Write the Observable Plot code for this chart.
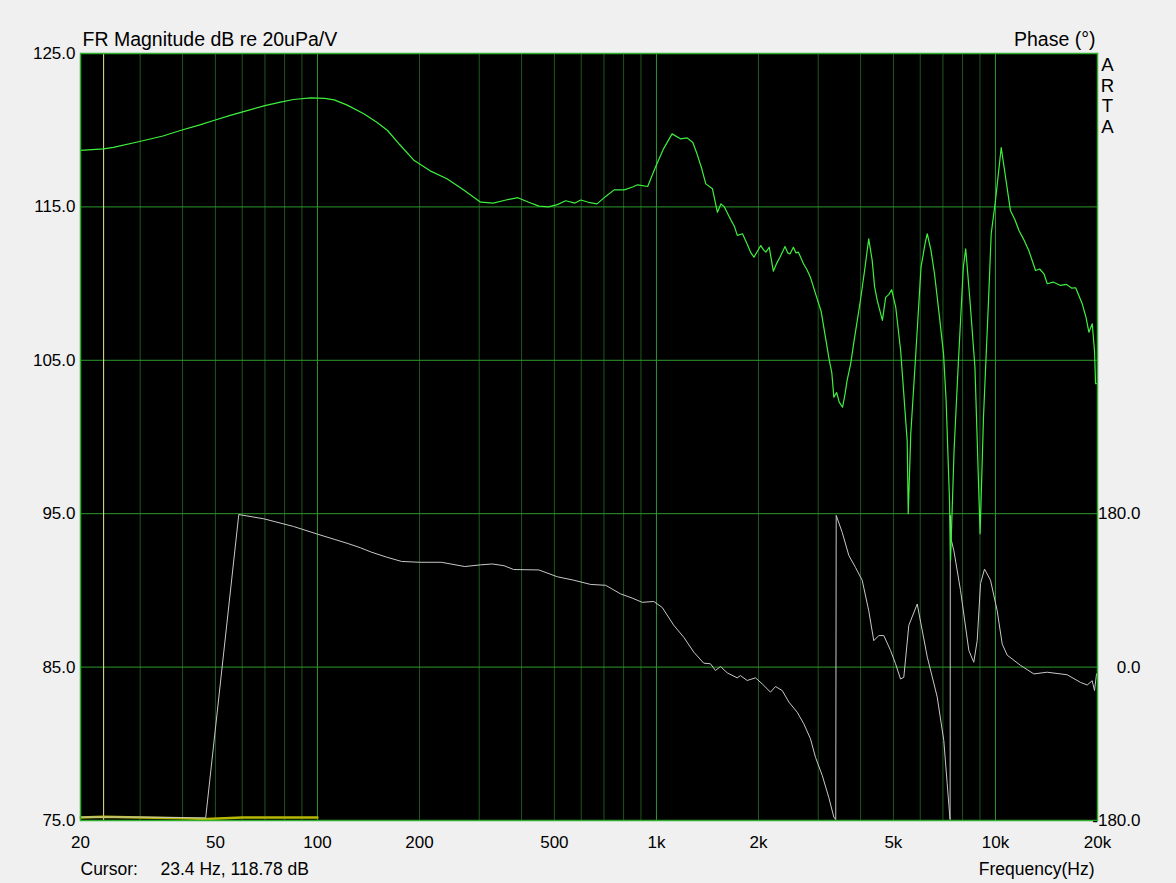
<!DOCTYPE html>
<html>
<head>
<meta charset="utf-8">
<script src="https://cdn.jsdelivr.net/npm/d3@7"></script>
<script src="https://cdn.jsdelivr.net/npm/@observablehq/plot@0.6"></script>
<style>
  html, body { margin: 0; padding: 0; background: #f0f0f0; }
  #chart svg { display: block; }
</style>
</head>
<body>
<div id="chart"></div>
<script>
// Magnitude (green) – frequency (Hz) and level (dB re 20uPa/V)
const magFreq = [20, 23.4, 25, 30.1, 35, 39.4, 45, 49.4, 55, 62, 70, 77.8, 85, 95.4, 105, 112, 122, 137, 150, 161, 175, 193, 215, 241, 270, 303, 330, 360, 390, 420, 450, 480, 510, 540, 575, 598, 630, 668, 710, 750, 804, 850, 880, 942, 993, 1050, 1112, 1176, 1232, 1280, 1317, 1360, 1398, 1463, 1513, 1550, 1586, 1654, 1700, 1732, 1794, 1850, 1900, 1939, 2031, 2070, 2103, 2151, 2212, 2260, 2314, 2395, 2440, 2479, 2535, 2580, 2623, 2715, 2780, 2845, 2979, 3060, 3128, 3235, 3290, 3336, 3400, 3460, 3540, 3600, 3650, 3740, 3830, 3996, 4120, 4228, 4330, 4400, 4480, 4640, 4744, 4850, 4940, 5080, 5252, 5490, 5530, 5626, 5820, 6032, 6200, 6292, 6450, 6610, 6840, 7030, 7152, 7320, 7370, 7550, 7760, 8040, 8170, 8410, 8700, 9010, 9220, 9540, 9716, 10000, 10400, 10700, 11070, 11400, 11730, 12100, 12540, 13130, 13500, 13900, 14220, 14800, 15560, 16200, 16800, 17240, 18030, 18500, 18860, 19300, 19600, 19740, 20000];
const magDb = [118.68, 118.78, 118.88, 119.28, 119.62, 119.98, 120.35, 120.63, 120.95, 121.28, 121.6, 121.83, 122.0, 122.11, 122.08, 121.98, 121.65, 121.07, 120.5, 119.98, 119.05, 118.02, 117.35, 116.83, 116.1, 115.31, 115.25, 115.45, 115.6, 115.3, 115.05, 115.0, 115.15, 115.4, 115.25, 115.45, 115.3, 115.2, 115.7, 116.11, 116.11, 116.3, 116.44, 116.33, 117.59, 118.8, 119.76, 119.44, 119.5, 119.2, 118.46, 117.5, 116.5, 116.18, 114.65, 115.2, 115.0, 114.2, 113.7, 113.14, 113.25, 112.6, 112.0, 111.72, 112.48, 112.2, 112.05, 112.37, 110.81, 111.3, 111.72, 112.42, 112.0, 111.94, 112.37, 112.0, 112.05, 111.29, 110.9, 110.42, 109.0, 108.2, 106.94, 105.0, 104.2, 102.6, 102.9, 102.27, 101.94, 102.8, 103.68, 104.77, 106.3, 108.9, 111.0, 112.92, 111.5, 109.8, 108.9, 107.6, 109.1, 109.3, 109.6, 108.46, 105.64, 99.77, 95.0, 100.2, 105.4, 111.07, 112.6, 113.25, 112.2, 110.64, 107.8, 105.4, 102.4, 95.86, 91.95, 99.12, 104.55, 111.07, 112.27, 108.9, 104.55, 93.69, 101.3, 108.9, 113.25, 115.4, 118.87, 117.0, 114.77, 114.2, 113.46, 112.9, 112.16, 110.85, 110.95, 110.64, 109.99, 110.1, 109.88, 109.95, 109.7, 109.73, 108.68, 107.8, 106.83, 107.38, 105.6, 103.47, 103.5];

// Phase (grey) – frequency (Hz) and phase (degrees)
const phaseFreq = [20, 30, 46.8, 58.6, 69.5, 85, 100, 112, 123, 134, 144, 160, 177, 200, 232, 272, 303, 328, 355, 379, 450, 510, 570, 639, 708, 783, 848, 908, 982, 1040, 1125, 1204, 1289, 1379, 1443, 1493, 1545, 1617, 1730, 1770, 1852, 1960, 2050, 2170, 2245, 2350, 2458, 2602, 2720, 2846, 2946, 3083, 3224, 3336, 3380, 3390, 3532, 3694, 3864, 4044, 4230, 4376, 4528, 4684, 4904, 5072, 5248, 5366, 5552, 5878, 6292, 6732, 7040, 7206, 7334, 7350, 7360, 7400, 7536, 7888, 8346, 8632, 8834, 9036, 9284, 9670, 10120, 10470, 10830, 11860, 12980, 14210, 16280, 17830, 18650, 19290, 19600, 19870];
const phaseDeg = [-176, -176, -177, 179, 174, 165, 156, 150, 145, 140, 135, 129, 124, 123, 123, 118, 120, 121, 119, 114.5, 114, 106, 102, 97, 96, 86, 81, 76, 77, 70, 49, 35, 17.5, 4.6, 3.9, -4, 0.7, -6.7, -12.6, -10, -15.7, -12.6, -19.6, -29.4, -22.8, -27.5, -41, -53, -66.5, -84, -106, -127, -153, -176, -179, 178, 158, 131, 117, 102, 66, 31, 37, 37, 19.5, 4, -14, -12, 49, 74, 12, -35, -86, -137, -176, -179, 178, 150, 137, 90, 19.5, 5.7, 31, 98, 115, 102, 66, 27, 14, 2, -8, -6, -9, -18, -21, -16, -27.5, -8];

// Lower (yellow) trace near the floor, 20–100 Hz
const lowFreq = [20, 23.4, 30, 40, 47, 60, 80, 100];
const lowDb = [75.2, 75.25, 75.2, 75.15, 75.1, 75.2, 75.2, 75.2];

// Axis ticks
const freqTicks = [20, 50, 100, 200, 500, 1000, 2000, 5000, 10000, 20000];
const freqLabels = ["20", "50", "100", "200", "500", "1k", "2k", "5k", "10k", "20k"];
const dbTicks = [75, 85, 95, 105, 115, 125];
const phaseTicks = [-180, 0, 180];
const minorFreq = [30, 40, 50, 60, 70, 80, 90, 200, 300, 400, 500, 600, 700, 800, 900, 2000, 3000, 4000, 5000, 6000, 7000, 8000, 9000];
const majorFreq = [100, 1000, 10000];
const gridDb = [85, 95, 105, 115];
const cursorFreq = [23.4];

// Phase is drawn on the right axis: -180..180 deg ↔ 75..95 dB
const phaseToDb = p => 85 + p / 18;

const mag = magFreq.map((f, i) => ({f, v: magDb[i]}));
const phase = phaseFreq.map((f, i) => ({f, v: phaseToDb(phaseDeg[i])}));
const low = lowFreq.map((f, i) => ({f, v: lowDb[i]}));
const xLabels = freqTicks.map((f, i) => ({f, label: freqLabels[i]}));

const font = "'Liberation Sans', Arial, sans-serif";

const chart = Plot.plot({
  width: 1176,
  height: 883,
  marginLeft: 80,
  marginRight: 79,
  marginTop: 53,
  marginBottom: 63,
  style: {background: "#f0f0f0", fontFamily: font, fontSize: "17px", color: "#000"},
  x: {type: "log", domain: [20, 20000], axis: null},
  y: {domain: [75, 125]},
  marks: [
    Plot.frame({fill: "#000", stroke: null}),
    Plot.ruleX(minorFreq, {stroke: "#1b581b", strokeWidth: 1}),
    Plot.ruleX(majorFreq, {stroke: "#2e9a2e", strokeWidth: 1}),
    Plot.ruleY(gridDb, {stroke: "#2e9a2e", strokeWidth: 1}),
    Plot.ruleX(cursorFreq, {stroke: "#e6e69a", strokeWidth: 1}),
    Plot.line(low, {x: "f", y: "v", stroke: "#b8b800", strokeWidth: 2.5}),
    Plot.line(phase, {x: "f", y: "v", stroke: "#c8c8c8", strokeWidth: 1}),
    Plot.line(mag, {x: "f", y: "v", stroke: "#3ef03e", strokeWidth: 1.2}),
    Plot.frame({stroke: "#2fae2f", strokeWidth: 1.5}),
    Plot.text(xLabels, {x: "f", text: "label", frameAnchor: "bottom", textAnchor: "middle", lineAnchor: "top", dy: 15, fontSize: 17}),
    Plot.axisY({
      ticks: dbTicks, tickSize: 0, tickPadding: 5, fontSize: 17,
      tickFormat: d => d.toFixed(1), label: null
    }),
    Plot.axisY(phaseTicks.map(phaseToDb), {
      anchor: "right", tickSize: 0, tickPadding: 43, textAnchor: "end", fontSize: 17,
      tickFormat: d => ((d - 85) * 18).toFixed(1), label: null
    }),
    Plot.text(["FR Magnitude dB re 20uPa/V"], {frameAnchor: "top-left", textAnchor: "start", lineAnchor: "bottom", dx: 2, dy: -8, fontSize: 19.5}),
    Plot.text(["Phase (°)"], {frameAnchor: "top-right", textAnchor: "end", lineAnchor: "bottom", dx: -2, dy: -8, fontSize: 19.5}),
    Plot.text(["A\nR\nT\nA"], {frameAnchor: "top-right", textAnchor: "middle", lineAnchor: "top", lineHeight: 1.12, dx: 10, dy: 2.5, fontSize: 18.6}),
    Plot.text(["Cursor:"], {frameAnchor: "bottom-left", textAnchor: "start", lineAnchor: "bottom", dx: 0, dy: 54, fontSize: 17.5}),
    Plot.text(["23.4 Hz, 118.78 dB"], {frameAnchor: "bottom-left", textAnchor: "start", lineAnchor: "bottom", dx: 80, dy: 54, fontSize: 17.5}),
    Plot.text(["Frequency(Hz)"], {frameAnchor: "bottom-right", textAnchor: "end", lineAnchor: "bottom", dx: -3, dy: 54, fontSize: 17.5})
  ]
});
document.getElementById("chart").appendChild(chart);
</script>
</body>
</html>
